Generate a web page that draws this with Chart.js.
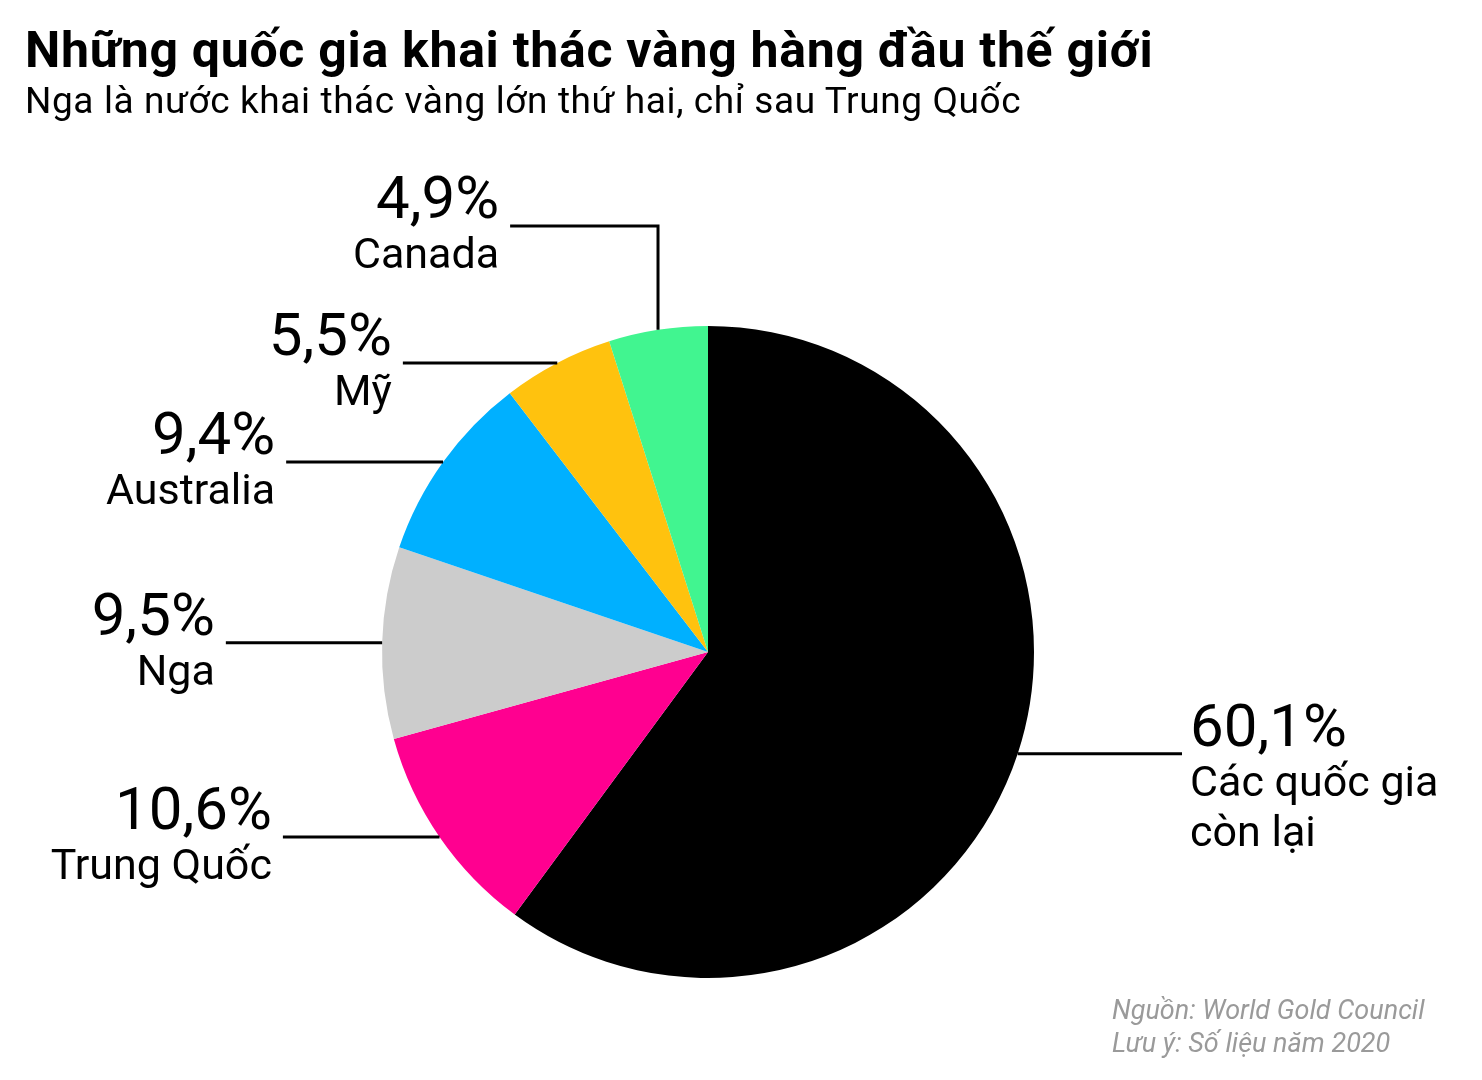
<!DOCTYPE html>
<html>
<head>
    <meta charset="utf-8">
    <title>Những quốc gia khai thác vàng hàng đầu thế giới</title>
    <script src="https://cdn.jsdelivr.net/npm/chart.js"></script>
    <style>
        body { margin: 0; background: #fff; font-family: Roboto, sans-serif; }
        #wrap { position: relative; width: 1482px; height: 1080px; }
        #title { position: absolute; left: 25px; top: 25px; font-size: 50px; font-weight: bold; letter-spacing: 0.7px; line-height: 1; white-space: nowrap; }
        #subtitle { position: absolute; left: 25px; top: 82px; font-size: 37px; letter-spacing: 0.6px; line-height: 1; white-space: nowrap; }
        #note { position: absolute; left: 1112px; top: 994px; font-size: 27px; font-style: italic; color: #9a9a9a; line-height: 33px; }
    </style>
</head>
<body>
    <div id="wrap">
        <canvas id="pieChart"></canvas>
        <div id="title">Những quốc gia khai thác vàng hàng đầu thế giới</div>
        <div id="subtitle">Nga là nước khai thác vàng lớn thứ hai, chỉ sau Trung Quốc</div>
        <div id="note">Nguồn: World Gold Council<br>Lưu ý: Số liệu năm 2020</div>
    </div>
    <script>
        // số liệu (%)
        const countries = [['Các quốc gia', 'còn lại'], ['Trung Quốc'], ['Nga'], ['Australia'], ['Mỹ'], ['Canada']];
        const shares = [60.1, 10.6, 9.5, 9.4, 5.5, 4.9];
        const colors = ['#000000', '#ff0090', '#cccccc', '#00b0ff', '#ffc20e', '#41f590'];

        // vị trí nhãn: x của đầu đường dẫn (theo bán kính), elbow = y của đoạn ngang cho Canada
        const labelLayout = [
            { side: 'right', x: 1.454 },
            { side: 'left', x: -1.304 },
            { side: 'left', x: -1.479 },
            { side: 'left', x: -1.294 },
            { side: 'left', x: -0.936 },
            { side: 'left', x: -0.607, elbow: -1.307 }
        ];

        const leaderLabels = {
            id: 'leaderLabels',
            afterDraw(chart) {
                const ctx = chart.ctx;
                const arcs = chart.getDatasetMeta(0).data;
                ctx.save();
                ctx.strokeStyle = '#000';
                ctx.fillStyle = '#000';
                ctx.lineWidth = 3;
                arcs.forEach((arc, i) => {
                    const r = arc.outerRadius;
                    const mid = (arc.startAngle + arc.endAngle) / 2;
                    const ex = arc.x + r * Math.cos(mid);
                    const ey = arc.y + r * Math.sin(mid);
                    const lay = labelLayout[i];
                    const lx = arc.x + lay.x * r;
                    let ly = ey;
                    ctx.beginPath();
                    ctx.moveTo(ex, ey);
                    if (lay.elbow !== undefined) {
                        ly = arc.y + lay.elbow * r;
                        ctx.lineTo(ex, ly);
                    }
                    ctx.lineTo(lx, ly);
                    ctx.stroke();

                    const pct = shares[i].toFixed(1).replace('.', ',') + '%';
                    let tx;
                    if (lay.side === 'left') {
                        ctx.textAlign = 'right';
                        tx = lx - 11;
                    } else {
                        ctx.textAlign = 'left';
                        tx = lx + 8;
                    }
                    ctx.textBaseline = 'alphabetic';
                    ctx.font = '60px Roboto';
                    ctx.fillText(pct, tx, ly - 8);
                    ctx.font = '43px Roboto';
                    countries[i].forEach((line, k) => {
                        ctx.fillText(line, tx, ly + 42 + k * 50);
                    });
                });
                ctx.restore();
            }
        };

        const ctx = document.getElementById('pieChart').getContext('2d');
        const chart = new Chart(ctx, {
            type: 'pie',
            data: {
                labels: countries.map(c => c.join(' ')),
                datasets: [{
                    data: shares,
                    backgroundColor: colors,
                    borderWidth: 0
                }]
            },
            options: {
                responsive: true,
                maintainAspectRatio: false,
                animation: false,
                layout: {
                    padding: { left: 382, right: 448, top: 326, bottom: 102 }
                },
                plugins: {
                    legend: { display: false },
                    tooltip: { enabled: false }
                }
            },
            plugins: [leaderLabels]
        });
    </script>
</body>
</html>
